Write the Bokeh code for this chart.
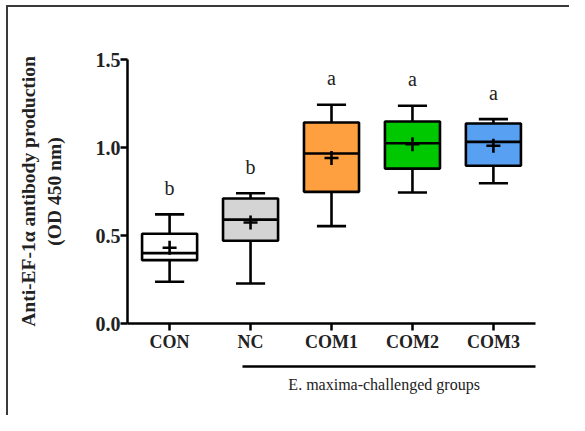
from bokeh.plotting import figure
from bokeh.models import Range1d, FixedTicker, PrintfTickFormatter, LinearAxis, ColumnDataSource
from bokeh.core.properties import value
from bokeh.embed import file_html
from bokeh.resources import INLINE

groups = ["CON", "NC", "COM1", "COM2", "COM3"]
lower = [0.237, 0.227, 0.553, 0.744, 0.797]
q1 = [0.36, 0.47, 0.748, 0.88, 0.896]
median = [0.40, 0.59, 0.966, 1.024, 1.032]
q3 = [0.51, 0.71, 1.142, 1.148, 1.136]
upper = [0.62, 0.74, 1.243, 1.237, 1.161]
means = [0.43, 0.574, 0.94, 1.019, 1.01]
letters = ["b", "b", "a", "a", "a"]
colors = ["#ffffff", "#d4d4d4", "#ffa040", "#00c800", "#58a0f2"]
y_ticks = [0.0, 0.5, 1.0, 1.5]
y_title = "Anti-EF-1\u03b1 antibody production\n(OD 450 nm)"
group_caption = "E. maxima-challenged groups"
group_span = (0.9, 4.56)      # group line extent (category index units)
caption_at = 2.65

FONT = "Liberation Serif"
W, H = 569, 415
line_col = "#3a3a3a"

p = figure(width=W, height=H, output_backend="svg", toolbar_location=None,
           x_range=Range1d(-0.52, 4.52), y_range=Range1d(0, 1.5),
           min_border_left=127, min_border_right=34,
           min_border_top=59, min_border_bottom=92)
p.styles = {"background": (f"linear-gradient({line_col},{line_col}) 6px 5px / 2px 100% no-repeat, "
                           f"linear-gradient({line_col},{line_col}) 6px 5px / 100% 2px no-repeat, white")}
p.outline_line_color = None
p.grid.visible = False
p.background_fill_color = "white"
p.border_fill_alpha = 0

xs = list(range(len(groups)))
src = ColumnDataSource(dict(x=xs, lower=lower, q1=q1, median=median, q3=q3, upper=upper,
                            means=means, color=colors, letters=letters,
                            ly=[u + 0.15 for u in upper],
                            bl=[x - 0.34 for x in xs], br=[x + 0.34 for x in xs],
                            cl=[x - 0.18 for x in xs], cr=[x + 0.18 for x in xs]))

LW = 2.6
p.segment("x", "q3", "x", "upper", source=src, line_color="black", line_width=LW)
p.segment("x", "q1", "x", "lower", source=src, line_color="black", line_width=LW)
p.segment("cl", "upper", "cr", "upper", source=src, line_color="black", line_width=LW)
p.segment("cl", "lower", "cr", "lower", source=src, line_color="black", line_width=LW)
p.vbar(x="x", width=0.68, bottom="q1", top="q3", source=src, fill_color="color",
       line_color="black", line_width=LW)
p.segment("bl", "median", "br", "median", source=src, line_color="black", line_width=LW)
p.scatter("x", "means", source=src, marker="cross", size=14, line_color="black", line_width=2.6)
p.text("x", "ly", text="letters", source=src, text_font=value(FONT), text_font_size="20px",
       text_align="center", text_baseline="middle", text_color="#222222")

# y axis
ya = p.yaxis[0]
ya.ticker = FixedTicker(ticks=y_ticks)
ya.formatter = PrintfTickFormatter(format="%.1f")
ya.axis_line_width = 2.5
ya.major_tick_line_width = 2.5
ya.major_tick_out = 7
ya.major_tick_in = 0
ya.minor_tick_line_color = None
ya.major_label_standoff = 0
ya.major_label_text_font = FONT
ya.major_label_text_font_style = "bold"
ya.major_label_text_font_size = "20px"
ya.major_label_text_color = "#222222"
ya.axis_label = y_title
ya.axis_label_standoff = 28
ya.axis_label_text_font = FONT
ya.axis_label_text_font_style = "bold"
ya.axis_label_text_font_size = "19.5px"
ya.axis_label_text_color = "#222222"

# x axis
xa = p.xaxis[0]
xa.ticker = FixedTicker(ticks=xs)
xa.major_label_overrides = {i: g for i, g in enumerate(groups)}
xa.axis_line_width = 2.5
xa.major_tick_line_width = 2.5
xa.major_tick_out = 7
xa.major_tick_in = 0
xa.minor_tick_line_color = None
xa.major_label_standoff = 1
xa.major_label_text_font = FONT
xa.major_label_text_font_style = "bold"
xa.major_label_text_font_size = "18px"
xa.major_label_text_color = "#222222"
xa.axis_label = " "
xa.axis_label_text_font_size = "8px"
xa.axis_label_standoff = 0

# group line axis with caption
ga = LinearAxis(ticker=FixedTicker(ticks=[caption_at]), bounds=group_span, axis_line_width=2.5,
                major_label_overrides={caption_at: group_caption},
                major_tick_line_color=None, major_tick_out=0, major_tick_in=0,
                minor_tick_line_color=None, major_label_standoff=9,
                major_label_text_font=FONT, major_label_text_font_style="normal",
                major_label_text_font_size="16px", major_label_text_color="#222222")
p.add_layout(ga, "below")

open("out.html", "w").write(file_html(p, INLINE))
